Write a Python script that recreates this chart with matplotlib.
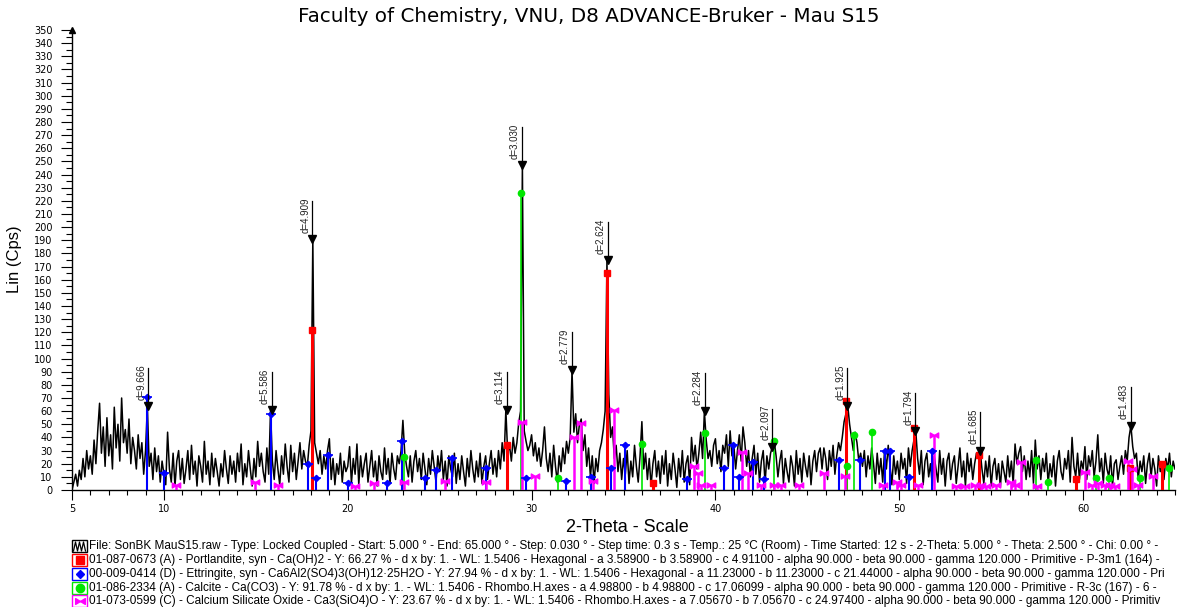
import numpy as np
import matplotlib
matplotlib.use("Agg")
import matplotlib.pyplot as plt
from matplotlib.path import Path
from matplotlib.patches import Rectangle
from matplotlib.lines import Line2D

plt.rcParams['font.family'] = ['Liberation Sans', 'DejaVu Sans']

# measured scan, 2-theta from 5 to 65 deg, read every 0.1 deg
counts = [
    0, 6, 12, 3, 15, 8, 24, 10, 30, 16,
    26, 12, 38, 20, 45, 66, 28, 48, 18, 55,
    26, 42, 16, 63, 32, 50, 22, 70, 36, 46,
    28, 54, 20, 40, 30, 16, 42, 24, 36, 12,
    30, 64, 18, 28, 8, 32, 14, 26, 6, 22,
    12, 4, 44, 16, 6, 28, 3, 22, 30, 8,
    24, 5, 16, 30, 8, 34, 12, 22, 3, 26,
    18, 6, 37, 12, 22, 4, 28, 10, 24, 14,
    3, 20, 10, 30, 16, 5, 26, 12, 22, 6,
    28, 14, 35, 4, 20, 10, 30, 16, 3, 24,
    10, 37, 18, 28, 14, 6, 32, 12, 61, 22,
    8, 30, 16, 4, 26, 12, 35, 18, 6, 34,
    14, 28, 8, 22, 36, 16, 30, 22, 18, 34,
    45, 191, 36, 28, 20, 30, 12, 26, 16, 30,
    39, 8, 24, 4, 20, 12, 28, 6, 22, 14,
    18, 33, 5, 24, 12, 35, 4, 26, 10, 20,
    28, 6, 18, 30, 10, 22, 3, 26, 14, 8,
    32, 12, 24, 5, 28, 16, 8, 26, 20, 30,
    53, 28, 18, 10, 26, 6, 22, 30, 14, 24,
    8, 28, 16, 4, 24, 12, 30, 18, 6, 26,
    14, 30, 8, 22, 3, 26, 16, 10, 28, 5,
    20, 8, 26, 14, 3, 24, 10, 30, 16, 6,
    22, 10, 28, 5, 18, 26, 8, 20, 30, 12,
    24, 10, 30, 16, 36, 22, 61, 28, 34, 22,
    40, 28, 36, 51, 60, 247, 45, 37, 30, 34,
    42, 26, 36, 22, 32, 18, 30, 48, 24, 14,
    28, 10, 34, 18, 6, 26, 14, 32, 20, 37,
    28, 40, 91, 44, 58, 36, 50, 54, 30, 42,
    18, 32, 10, 26, 5, 24, 14, 30, 36, 46,
    60, 175, 73, 40, 48, 24, 34, 14, 28, 8,
    24, 12, 30, 5, 22, 10, 34, 18, 6, 26,
    52, 16, 28, 8, 24, 3, 20, 30, 10, 22,
    5, 26, 12, 30, 3, 20, 8, 28, 16, 2,
    24, 10, 30, 6, 20, 26, 4, 40, 22, 34,
    16, 28, 44, 24, 60, 38, 24, 30, 18, 34,
    39, 20, 30, 14, 34, 28, 42, 18, 45, 26,
    34, 16, 30, 42, 22, 48, 36, 18, 30, 10,
    24, 34, 12, 28, 6, 22, 30, 5, 26, 16,
    28, 33, 37, 26, 10, 22, 30, 5, 24, 14,
    6, 26, 18, 3, 30, 12, 24, 6, 28, 18,
    10, 26, 4, 22, 30, 14, 28, 32, 16, 32,
    24, 8, 30, 18, 34, 12, 26, 36, 30, 40,
    52, 58, 64, 50, 40, 30, 44, 36, 22, 28,
    18, 30, 10, 26, 16, 32, 20, 5, 28, 12,
    24, 6, 30, 16, 34, 18, 4, 26, 12, 22,
    8, 28, 16, 24, 5, 32, 18, 30, 38, 45,
    24, 12, 30, 4, 22, 28, 10, 20, 3, 26,
    16, 6, 30, 12, 24, 3, 22, 28, 8, 20,
    26, 5, 18, 32, 10, 22, 3, 28, 14, 24,
    8, 20, 28, 24, 30, 16, 5, 22, 10, 26,
    3, 18, 24, 8, 20, 2, 22, 14, 6, 26,
    10, 22, 5, 35, 20, 28, 33, 14, 26, 8,
    22, 10, 30, 5, 38, 16, 26, 8, 24, 14,
    28, 5, 20, 10, 26, 3, 22, 30, 14, 8,
    24, 16, 30, 6, 40, 18, 10, 28, 8, 22,
    16, 33, 8, 26, 18, 30, 10, 22, 42, 14,
    24, 5, 28, 16, 10, 26, 3, 20, 23, 8,
    18, 26, 12, 30, 22, 40, 49, 33, 24, 28,
    8, 22, 14, 26, 5, 20, 28, 10, 24, 16,
    3, 26, 14, 20, 8, 24, 16, 28, 10, 22,
    16]
two_theta = 5.0 + 0.1 * np.arange(len(counts))

# reference patterns (stick positions / heights)
portl_pos = [18.06, 28.66, 34.09, 36.6, 47.12, 50.80, 54.34, 59.6, 62.54, 64.3]
portl_int = [122, 34, 165, 5, 68, 47, 27, 8, 17, 20]

ettr_pos = [9.10, 10.02, 15.80, 17.85, 18.30, 18.93, 20.02, 22.15, 22.97, 24.22,
            24.78, 25.65, 27.53, 29.67, 31.85, 33.24, 34.33, 35.09, 38.44, 40.49,
            40.93, 41.30, 42.03, 42.63, 46.74, 47.86, 49.25, 49.50, 50.52, 51.79]
ettr_int = [71, 13, 58, 20, 9, 27, 5, 5, 37, 9,
            15, 24, 17, 9, 7, 10, 17, 34, 8, 17,
            34, 10, 21, 8, 23, 23, 30, 30, 10, 30]

calc_pos = [23.05, 29.40, 31.45, 36.0, 39.42, 43.18, 47.15, 47.52, 48.52,
            57.45, 58.1, 60.7, 61.4, 63.1, 64.7]
calc_int = [25, 226, 9, 35, 43, 37, 18, 42, 44, 23, 6, 9, 9, 9, 17]

c3s_pos = [10.68, 14.97, 16.2, 20.38, 21.41, 23.04, 25.28, 27.5, 29.49, 30.18,
           32.3, 32.7, 33.33, 34.46, 38.86, 39.04, 39.22, 39.77, 41.45, 41.76,
           42.5, 43.2, 43.57, 44.57, 45.92, 47.05, 49.1, 49.9, 50.1, 51.0,
           51.9, 53.1, 53.59, 54.1, 54.44, 54.74, 55.25, 56.07, 56.3, 56.65,
           57.47, 60.12, 60.5, 60.8, 61.2, 61.47, 61.72, 62.45, 62.68, 63.0, 63.78]
c3s_int = [4, 6, 4, 3, 5, 6, 7, 6, 52, 11,
           40, 51, 7, 61, 18, 13, 4, 4, 29, 13,
           4, 4, 4, 4, 13, 11, 4, 6, 4, 4,
           42, 3, 3, 4, 4, 3, 4, 6, 4, 21,
           3, 14, 4, 5, 4, 4, 3, 22, 16, 4, 11]

# d-spacing labels
d_vals = [9.666, 5.586, 4.909, 3.114, 3.030, 2.779, 2.624, 2.284, 2.097, 1.925, 1.794, 1.685, 1.483]
d_peak = [64, 61, 191, 61, 247, 91, 175, 60, 33, 64, 45, 30, 49]
d_pos = [2 * np.degrees(np.arcsin(1.5406 / (2 * d))) for d in d_vals]

legend_lines = [
    "File: SonBK MauS15.raw - Type: Locked Coupled - Start: 5.000 \u00b0 - End: 65.000 \u00b0 - Step: 0.030 \u00b0 - Step time: 0.3 s - Temp.: 25 \u00b0C (Room) - Time Started: 12 s - 2-Theta: 5.000 \u00b0 - Theta: 2.500 \u00b0 - Chi: 0.00 \u00b0 -",
    "01-087-0673 (A) - Portlandite, syn - Ca(OH)2 - Y: 66.27 % - d x by: 1. - WL: 1.5406 - Hexagonal - a 3.58900 - b 3.58900 - c 4.91100 - alpha 90.000 - beta 90.000 - gamma 120.000 - Primitive - P-3m1 (164) -",
    "00-009-0414 (D) - Ettringite, syn - Ca6Al2(SO4)3(OH)12\u00b725H2O - Y: 27.94 % - d x by: 1. - WL: 1.5406 - Hexagonal - a 11.23000 - b 11.23000 - c 21.44000 - alpha 90.000 - beta 90.000 - gamma 120.000 - Pri",
    "01-086-2334 (A) - Calcite - Ca(CO3) - Y: 91.78 % - d x by: 1. - WL: 1.5406 - Rhombo.H.axes - a 4.98800 - b 4.98800 - c 17.06099 - alpha 90.000 - beta 90.000 - gamma 120.000 - Primitive - R-3c (167) - 6 -",
    "01-073-0599 (C) - Calcium Silicate Oxide - Ca3(SiO4)O - Y: 23.67 % - d x by: 1. - WL: 1.5406 - Rhombo.H.axes - a 7.05670 - b 7.05670 - c 24.97400 - alpha 90.000 - beta 90.000 - gamma 120.000 - Primitiv",
]

RED, BLUE, GREEN, MAG = '#ff0000', '#0000ff', '#00e600', '#ff00ff'
bowtie = Path([(-1, 0.6), (1, -0.6), (1, 0.6), (-1, -0.6), (-1, 0.6)],
              [Path.MOVETO, Path.LINETO, Path.LINETO, Path.LINETO, Path.CLOSEPOLY])

W, H = 1179, 607
fig = plt.figure(figsize=(W / 100, H / 100), dpi=100)
ax = fig.add_axes([72 / W, 117 / H, 1103 / W, 460 / H])

ax.plot(two_theta, counts, color='black', lw=1.1, zorder=2)

ax.vlines(portl_pos, 0, portl_int, colors=RED, lw=2.2, zorder=3)
ax.plot(portl_pos, portl_int, 's', color=RED, ms=4.5, zorder=4)
ax.vlines(ettr_pos, 0, ettr_int, colors=BLUE, lw=1.5, zorder=3)
ax.plot(ettr_pos, ettr_int, '_', color=BLUE, ms=7, mew=1.2, zorder=4)
ax.plot(ettr_pos, ettr_int, 'D', color=BLUE, ms=3.2, zorder=4)
ax.vlines(calc_pos, 0, calc_int, colors=GREEN, lw=1.2, zorder=3)
ax.plot(calc_pos, calc_int, 'o', color=GREEN, ms=4.5, zorder=4)
ax.vlines(c3s_pos, 0, c3s_int, colors=MAG, lw=1.8, zorder=3)
ax.plot(c3s_pos, c3s_int, ls='none', marker=bowtie, color=MAG, ms=6, zorder=4)

for p, h, d in zip(d_pos, d_peak, d_vals):
    ax.plot([p, p], [h, h + 29], color='black', lw=0.9, zorder=5)
    ax.plot(p, h, 'v', color='black', ms=6, zorder=6)
    ax.annotate('d=%.3f' % d, xy=(p, h), xytext=(-1.2, 4.5), textcoords='offset points',
                rotation=90, ha='right', va='bottom', fontsize=7, color='#222222')

ax.set_xlim(5, 65)
ax.set_ylim(0, 350)
ax.spines['top'].set_visible(False)
ax.spines['right'].set_visible(False)
ax.spines['left'].set_linewidth(1.0)
ax.spines['bottom'].set_linewidth(1.0)
ax.set_yticks(np.arange(0, 351, 10))
ax.set_yticks(np.arange(5, 350, 10), minor=True)
ax.set_xticks([5, 10, 20, 30, 40, 50, 60])
ax.set_xticks(np.arange(5, 66, 1), minor=True)
ax.tick_params(axis='y', which='major', length=8, width=0.8, pad=6, labelsize=7)
ax.tick_params(axis='y', which='minor', length=4, width=0.8)
ax.tick_params(axis='x', which='major', length=7, width=0.8, pad=3, labelsize=7)
ax.tick_params(axis='x', which='minor', length=3.5, width=0.8)
for lab in ax.get_xticklabels() + ax.get_yticklabels():
    lab.set_family('DejaVu Sans')
ax.plot(5, 350, '^', color='black', ms=4, clip_on=False, zorder=6)

fig.text(589 / W, 1 - 17 / H, 'Faculty of Chemistry, VNU, D8 ADVANCE-Bruker - Mau S15',
         ha='center', va='center', fontsize=14.3, family='DejaVu Sans')
fig.text(627 / W, 1 - 528 / H, '2-Theta - Scale', ha='center', va='center', fontsize=13)
fig.text(15 / W, 1 - 259 / H, 'Lin (Cps)', rotation=90, ha='center', va='center', fontsize=12)

# legend block at the bottom
row_y = [546, 560, 574, 588, 601]
icon_col = ['black', RED, BLUE, GREEN, MAG]
for i, (yc, txt) in enumerate(zip(row_y, legend_lines)):
    fig.text(89 / W, 1 - yc / H, txt, ha='left', va='center', fontsize=8.5)
    fig.add_artist(Rectangle((72 / W, 1 - (yc + 6) / H), 15 / W, 12 / H, transform=fig.transFigure,
                             fill=False, ec=icon_col[i], lw=1.0))
    xc, yy = 79.5 / W, 1 - yc / H
    if i == 0:
        zx = [73.5, 75.5, 77.5, 79.5, 81.5, 83.5, 85.5]
        zy = [yc + 5, yc - 4, yc + 5, yc - 4, yc + 5, yc - 4, yc + 5]
        fig.add_artist(Line2D([x / W for x in zx], [1 - y / H for y in zy],
                              transform=fig.transFigure, color='black', lw=0.9))
    elif i == 1:
        fig.add_artist(Line2D([xc], [yy], marker='s', ms=6, color=RED, transform=fig.transFigure))
    elif i == 2:
        fig.add_artist(Line2D([xc], [yy], marker='D', ms=4.5, color=BLUE, transform=fig.transFigure))
    elif i == 3:
        fig.add_artist(Line2D([xc], [yy], marker='o', ms=6, color=GREEN, transform=fig.transFigure))
    else:
        fig.add_artist(Line2D([xc], [yy], marker=bowtie, ms=7, color=MAG, transform=fig.transFigure))

fig.savefig('out.png', dpi=100)
